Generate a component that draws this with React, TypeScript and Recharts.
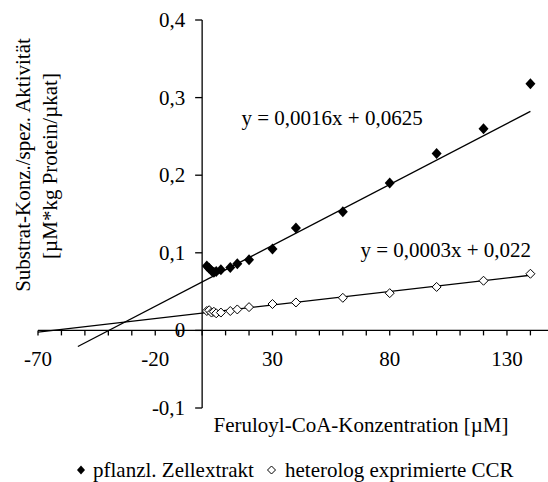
import React from 'react';
import { ScatterChart, Scatter, XAxis, YAxis, ReferenceLine, ReferenceDot, Legend } from 'recharts';

// Feruloyl-CoA concentration [µM]
const concentration = [2, 3, 4, 5, 6, 8, 12, 15, 20, 30, 40, 60, 80, 100, 120, 140];
// substrate conc. / specific activity
const cellExtract = [0.083, 0.08, 0.077, 0.075, 0.076, 0.078, 0.081, 0.086, 0.091, 0.105, 0.132, 0.153, 0.19, 0.228, 0.26, 0.318];
const ccr = [0.025, 0.026, 0.023, 0.024, 0.022, 0.023, 0.025, 0.027, 0.03, 0.034, 0.036, 0.042, 0.048, 0.056, 0.064, 0.073];

const xTicks = [-70, -60, -50, -40, -30, -20, -10, 0, 10, 20, 30, 40, 50, 60, 70, 80, 90, 100, 110, 120, 130, 140];
const xLabels = [-70, -20, 30, 80, 130];
const yTicks = [-0.1, 0, 0.1, 0.2, 0.3, 0.4];

// linear regression lines
const extractSlope = 0.00157;
const extractIntercept = 0.0625;
const extractRange = [-53, 140];
const ccrSlope = 0.000349;
const ccrIntercept = 0.0222;
const ccrRange = [-70, 140];

const extractName = 'pflanzl. Zellextrakt';
const ccrName = 'heterolog exprimierte CCR';
const extractLabel = 'y = 0,0016x + 0,0625';
const ccrLabel = 'y = 0,0003x + 0,022';

const FONT = "'Liberation Serif', 'Times New Roman', serif";
const FS = 21;

const extractData = concentration.map((x, i) => ({ x, y: cellExtract[i] }));
const ccrData = concentration.map((x, i) => ({ x, y: ccr[i] }));

const fmt = (v: number) => (v === 0 ? '0' : v.toFixed(1).replace('.', ','));

const FilledDiamond = (p: any) => (
  <path d={`M${p.cx},${p.cy - 5.5}L${p.cx + 5},${p.cy}L${p.cx},${p.cy + 5.5}L${p.cx - 5},${p.cy}Z`} fill="#000" />
);
const OpenDiamond = (p: any) => (
  <path
    d={`M${p.cx},${p.cy - 4.5}L${p.cx + 4.5},${p.cy}L${p.cx},${p.cy + 4.5}L${p.cx - 4.5},${p.cy}Z`}
    fill="#fff"
    stroke="#000"
    strokeWidth={1}
  />
);

const renderLegend = () => (
  <svg width={548} height={30} style={{ display: 'block' }}>
    <path d="M81,10.5L85,15L81,19.5L77,15Z" fill="#000" />
    <text x={93} y={15} dominantBaseline="central" fontFamily={FONT} fontSize={FS} fill="#000">
      {extractName}
    </text>
    <path d="M271.5,11L275.5,15L271.5,19L267.5,15Z" fill="#fff" stroke="#000" strokeWidth={1} />
    <text x={285} y={15} dominantBaseline="central" fontFamily={FONT} fontSize={FS} fill="#000">
      {ccrName}
    </text>
  </svg>
);

const App: React.FC = () => {
  return (
    <div style={{ position: 'absolute', left: 0, top: 0, background: '#fff' }}>
      <ScatterChart width={548} height={482} margin={{ top: 20, right: 0, bottom: 74, left: 38 }}>
        <XAxis type="number" dataKey="x" domain={[-70, 147.5]} hide allowDataOverflow />
        <YAxis type="number" dataKey="y" domain={[-0.1, 0.4]} hide allowDataOverflow />

        {/* axes crossing at the origin */}
        <ReferenceLine y={0} stroke="#000" strokeWidth={1.3} ifOverflow="visible" />
        <ReferenceLine x={0} stroke="#000" strokeWidth={1.3} ifOverflow="visible" />

        {xTicks.map((t) => (
          <ReferenceDot
            key={`xt${t}`}
            x={t}
            y={0}
            ifOverflow="visible"
            shape={(p: any) => (
              <g>
                <line x1={p.cx} y1={p.cy} x2={p.cx} y2={p.cy + 5} stroke="#000" strokeWidth={1.3} />
                {xLabels.includes(t) && (
                  <text x={p.cx} y={p.cy + 29} textAnchor="middle" dominantBaseline="central" fontFamily={FONT} fontSize={FS} fill="#000">
                    {t}
                  </text>
                )}
              </g>
            )}
          />
        ))}
        {yTicks.map((t) => (
          <ReferenceDot
            key={`yt${t}`}
            x={0}
            y={t}
            ifOverflow="visible"
            shape={(p: any) => (
              <g>
                <line x1={p.cx - 7} y1={p.cy} x2={p.cx} y2={p.cy} stroke="#000" strokeWidth={1.3} />
                <text x={p.cx - 17} y={p.cy} textAnchor="end" dominantBaseline="central" fontFamily={FONT} fontSize={FS} fill="#000">
                  {fmt(t)}
                </text>
              </g>
            )}
          />
        ))}

        <ReferenceLine
          segment={[
            { x: extractRange[0], y: extractIntercept + extractSlope * extractRange[0] },
            { x: extractRange[1], y: extractIntercept + extractSlope * extractRange[1] },
          ]}
          stroke="#000"
          strokeWidth={1.3}
          ifOverflow="visible"
        />
        <ReferenceLine
          segment={[
            { x: ccrRange[0], y: ccrIntercept + ccrSlope * ccrRange[0] },
            { x: ccrRange[1], y: ccrIntercept + ccrSlope * ccrRange[1] },
          ]}
          stroke="#000"
          strokeWidth={1.3}
          ifOverflow="visible"
        />

        <Scatter name={extractName} data={extractData} shape={FilledDiamond} isAnimationActive={false} />
        <Scatter name={ccrName} data={ccrData} shape={OpenDiamond} isAnimationActive={false} />

        {/* regression equations */}
        <ReferenceDot
          x={16.8}
          y={0.2733}
          ifOverflow="visible"
          shape={(p: any) => (
            <text x={p.cx} y={p.cy} dominantBaseline="central" fontFamily={FONT} fontSize={FS} fill="#000">
              {extractLabel}
            </text>
          )}
        />
        <ReferenceDot
          x={140.3}
          y={0.1036}
          ifOverflow="visible"
          shape={(p: any) => (
            <text x={p.cx} y={p.cy} textAnchor="end" dominantBaseline="central" fontFamily={FONT} fontSize={FS} fill="#000">
              {ccrLabel}
            </text>
          )}
        />

        {/* axis titles */}
        <text transform="translate(361,425)" textAnchor="middle" dominantBaseline="central" fontFamily={FONT} fontSize={FS} fill="#000">
          Feruloyl-CoA-Konzentration [µM]
        </text>
        <text transform="translate(23,165) rotate(-90)" textAnchor="middle" dominantBaseline="central" fontFamily={FONT} fontSize={FS} fill="#000">
          Substrat-Konz./spez. Aktivität
        </text>
        <text transform="translate(50,166) rotate(-90)" textAnchor="middle" dominantBaseline="central" fontFamily={FONT} fontSize={FS} fill="#000">
          [µM*kg Protein/µkat]
        </text>

        <Legend
          verticalAlign="middle"
          align="center"
          layout="horizontal"
          content={renderLegend}
          wrapperStyle={{ position: 'absolute', left: 0, top: 455, width: 548, height: 30 }}
        />
      </ScatterChart>
    </div>
  );
};

export default App;
